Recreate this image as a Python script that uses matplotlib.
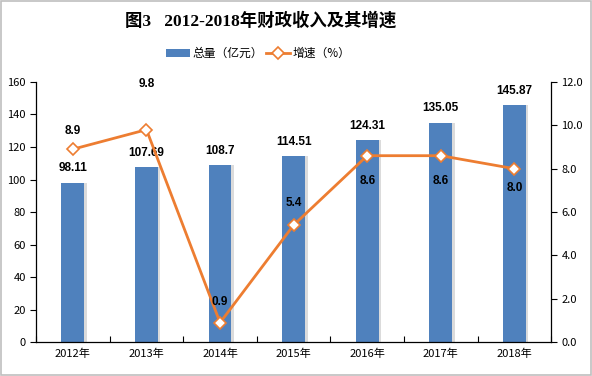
import matplotlib
matplotlib.use("Agg")
import matplotlib.pyplot as plt
from matplotlib.patches import Rectangle
import numpy as np

plt.rcParams['font.family'] = ['Noto Sans CJK SC', 'DejaVu Sans']

years = ["2012年", "2013年", "2014年", "2015年", "2016年", "2017年", "2018年"]
revenue = [98.11, 107.69, 108.7, 114.51, 124.31, 135.05, 145.87]
growth = [8.9, 9.8, 0.9, 5.4, 8.6, 8.6, 8.0]
# label offsets (in percent-axis units) for the growth labels
growth_offset = [0.85, 2.1, 0.95, 1.0, -1.15, -1.15, -0.9]

bar_color = "#4F81BD"
line_color = "#ED7D31"

fig = plt.figure(figsize=(5.92, 3.76), dpi=100)
fig.patches.append(Rectangle((0.002, 0.003), 0.996, 0.994, transform=fig.transFigure,
                             fill=False, edgecolor="#BFBFBF", lw=1.2))

ax = fig.add_axes([0.061, 0.090, 0.870, 0.692])
x = np.arange(len(years))
w = 0.31
# shadow
ax.bar(x + 0.035, revenue, w, color="#9a9a9a", alpha=0.35, zorder=1)
ax.bar(x, revenue, w, color=bar_color, zorder=2, label="总量（亿元）")
ax.set_xlim(-0.5, len(years) - 0.5)
ax.set_ylim(0, 160)
ax.set_yticks(np.arange(0, 161, 20))
ax.set_xticks(x)
ax.set_xticklabels(years, fontsize=8)
ax.tick_params(axis='x', length=0, pad=5)
ax.set_xticks(np.arange(-0.5, len(years), 1), minor=True)
ax.tick_params(axis='x', which='minor', direction='in', length=4, width=0.8)
ax.tick_params(axis='y', direction='out', length=4, width=0.8, labelsize=8)
for s in ["top", "right"]:
    ax.spines[s].set_visible(False)
for s in ["left", "bottom"]:
    ax.spines[s].set_linewidth(0.9)
for xi, v in zip(x, revenue):
    ax.text(xi, v + 5, f"{v:g}", ha="center", va="bottom", fontsize=8.5,
            fontweight="bold", family="Liberation Sans")

ax2 = ax.twinx()
ax2.set_ylim(0, 12)
ax2.set_yticks(np.arange(0, 12.1, 2))
ax2.set_yticklabels([f"{t:.1f}" for t in np.arange(0, 12.1, 2)])
ax2.tick_params(axis='y', direction='out', length=4, width=0.8, labelsize=8)
for s in ["top", "left", "bottom"]:
    ax2.spines[s].set_visible(False)
ax2.spines["right"].set_linewidth(0.9)
ax2.plot(x, growth, color=line_color, lw=2.0, marker="D", markersize=6,
         markerfacecolor="white", markeredgecolor=line_color, markeredgewidth=1.2,
         zorder=3, label="增速（%）")
for xi, v, o in zip(x, growth, growth_offset):
    ax2.text(xi, v + o, f"{v:.1f}", ha="center", va="center", fontsize=8.5,
             fontweight="bold", family="Liberation Sans")

fig.text(0.44, 0.945, "图3   2012-2018年财政收入及其增速", ha="center", va="center",
         fontsize=12.5, fontweight="bold", family=["Liberation Serif", "Noto Sans CJK SC"])

h1, l1 = ax.get_legend_handles_labels()
h2, l2 = ax2.get_legend_handles_labels()
fig.legend(h1 + h2, l1 + l2, loc="center", bbox_to_anchor=(0.436, 0.858), ncol=2,
           frameon=False, fontsize=8.5, handlelength=2.0, columnspacing=0.3, handletextpad=0.2)

fig.savefig("out.png", dpi=100)
